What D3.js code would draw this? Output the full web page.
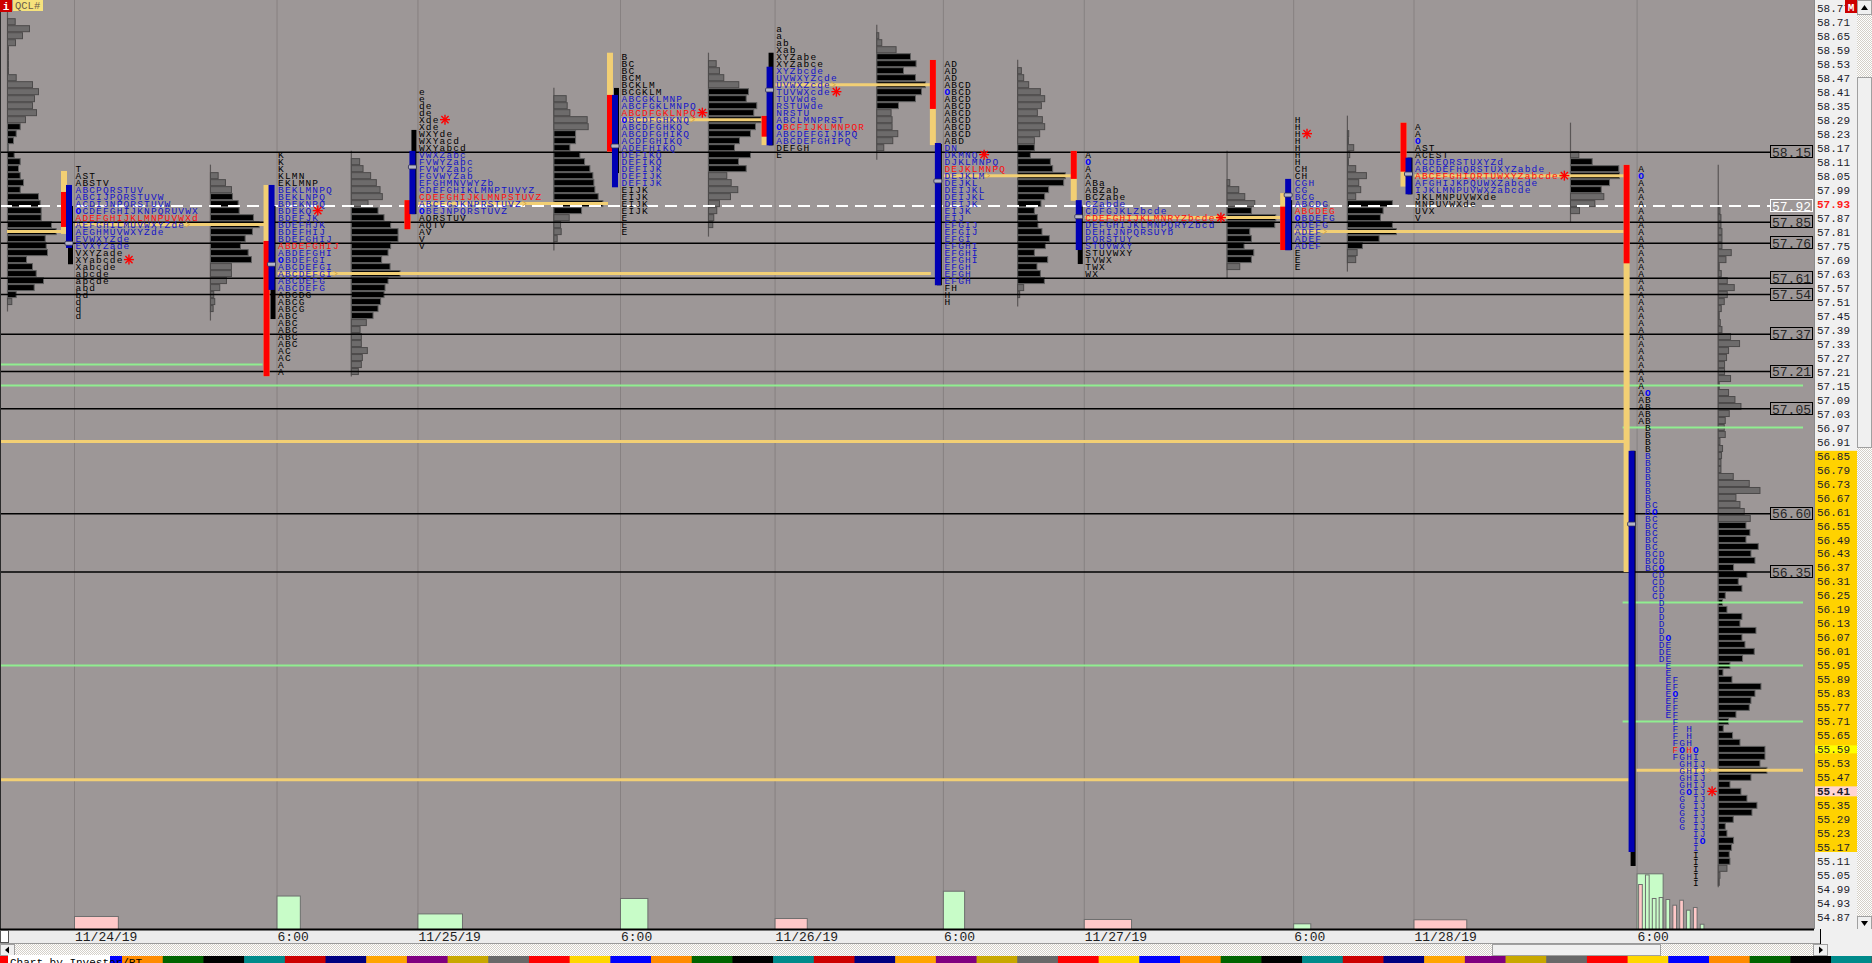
<!DOCTYPE html>
<html><head><meta charset="utf-8">
<script src="https://cdn.jsdelivr.net/npm/d3@7"></script>
<style>
html,body{margin:0;padding:0;background:#9d9797;overflow:hidden}
svg{display:block}
text{font-family:"Liberation Mono","DejaVu Sans Mono",monospace}
</style></head><body>
<svg id="c" width="1872" height="963"></svg>
<script>
// ---------------- DATA ----------------
const priceTicks = [58.77,58.71,58.65,58.59,58.53,58.47,58.41,58.35,58.29,58.23,58.17,58.11,58.05,57.99,57.93,57.87,57.81,57.75,57.69,57.63,57.57,57.51,57.45,57.39,57.33,57.27,57.21,57.15,57.09,57.03,56.97,56.91,56.85,56.79,56.73,56.67,56.61,56.55,56.49,56.43,56.37,56.31,56.25,56.19,56.13,56.07,56.01,55.95,55.89,55.83,55.77,55.71,55.65,55.59,55.53,55.47,55.41,55.35,55.29,55.23,55.17,55.11,55.05,54.99,54.93,54.87];
const sessionLabels = ["11/24/19","6:00","11/25/19","6:00","11/26/19","6:00","11/27/19","6:00","11/28/19","6:00"];
const levelLines = [58.15,57.85,57.76,57.61,57.54,57.37,57.21,57.05,56.60,56.35];
const dashedLevel = 57.92;
const axisRedLabel = 57.93;
const greenLevels = [57.24,57.15,55.95,56.97,56.22,55.71];
const greenFrom   = [null,null,null,9,9,9];
const greenTo     = [1,null,null,null,null,null];
const nakedPocs = [56.91,55.46];

// TPO letter rows (top row price, then one string per 0.03 step)
const tpoTop = [58.08,58.14,58.41,58.56,58.68,58.53,58.14,58.29,58.26,58.08];
const tpo1 = ["T","AST","ABSTV","ABCPQRSTUV","ABCIJPQRSTUVW","ACDIJNPQRSTUVW","OCDEFGHIJKNPQRUVWX","ADEFGHIJKLMNPUVWXd","AEFGHILMUVWXYZde","AEGHMUVWXYZde","EVWXYZde","EVXYZade","VXYZade","XYabcde","Xabcde","abcde","abcde","abd","bd","d","d","d"];
const tpo2 = ["K","K","K","KLMN","EKLMNP","BEKLMNPQ","BEKLNPQ","BDEKNPQ","BDEKQ","BDEFJK","BDEFHJK","BDEFHIJ","BDEFGHIJ","ABDEFGHIJ","ABDEFGHI","OBDEFGI","ABCDEFGI","ABCDEFGI","ABCDEFG","ABCDEFG","ABCDG","ABCG","ABCG","ABC","ABC","ABC","ABC","ABC","AC","AC","A","A"];
const tpo3 = ["e","e","de","de","Xde","Xde","WXYde","WXYacd","WXYabcd","VWXZabc","FVWYZabc","FVWYZabc","FGVWYZab","EFGHMNVWYZb","CDEFGHIKLMNPTUVYZ","CDEFGHIJKLMNPSTUVZ","ABCEGJKNPRSTUVZ","OBEJNPQRSTUVZ","AQRSTUV","AQTV","AV","V","V"];
const tpo4 = ["B","BC","BC","BCM","BCKLM","BCGKLM","ABCGKLMNP","ABCFGKLMNPQ","ABCDFGKLNPQ","OBCDFGHKNQ","ABCDFGHKQ","ABCDFGHIKQ","ACDFGHIKQ","ADEFHIKQ","DEFIKQ","DEFIKQ","DEFIJK","DEFIJK","DEFIJK","EIJK","EIJK","EIJK","EIJK","E","E","E"];
const tpo5 = ["a","a","ab","Xab","XYZabe","XYZabce","XYZbcde","UVWXYZcde","UVWXZcde","TUVWXcde","TUVWde","RSTUWde","NRSTU","ABCLMNPRST","OBCFIJKLMNPQR","ABCDEFGIJKPQ","ABCDEFGHIPQ","DEFGH","E"];
const tpo6 = ["AD","AD","AD","ABCD","OBCD","ABCD","ABCD","ABCD","ABCD","ABCD","ABCD","ABD","DN","DKMNQ","DJKLMNPQ","DEJKLMNPQ","DEJKLM","DEJKL","DEIJKL","DEIJKL","DEIJK","EIJK","EIJ","EFGIJ","EFGIJ","EFGI","EFGHI","EFGHI","EFGHI","EFGH","EFGH","EFGH","FH","H","H"];
const tpo7 = ["A","O","A","A","ABa","ABZab","BCZabe","CZabde","CDFGJKLZbcde","CDEFGHIJKLMNRYZbcde","DEFGHIJKLMNPQRYZbcd","DEHIJNPQRSUYb","PQRSTUY","STUVWXY","STUVWXY","TVWX","TWX","WX"];
const tpo8 = ["H","H","H","H","H","H","H","CH","CH","CGH","CG","BCG","ABCDG","ABCDEG","OBDEFG","ADEFG","ADEF","ADEF","ADEF","E","E","E"];
const tpo9 = ["A","A","O","AST","ACEST","ACDEQRSTUXYZd","ABCDEFHQRSTUXYZabde","ABCEFGHIQRTUWXYZabcde","AFGHIJKPQUWXZabcde","IJKLMNPUVWXZabcde","JKLMNPUVWXde","MNPUVWXde","UVX","V"];
// current session, by 30-minute period
const tpo10Letters = ["A","B","C","D","E","F","G","H","I","J"];
const tpo10High = [58.08,57.12,56.64,56.43,56.07,55.89,55.62,55.68,55.59,55.53];
const tpo10Low  = [57.00,56.37,56.25,55.98,55.74,55.56,55.26,55.41,55.02,55.20];
const tpo10Open = [58.05,57.12,56.61,56.37,56.07,55.83,55.59,55.41,55.59,55.20];

const tpoPoc   = [57.87,57.75,57.96,58.32,58.26,58.08,57.87,57.90,58.05,55.59];
const closePx  = [57.69,57.90,58.29,58.32,58.41,58.14,57.87,58.23,58.05,55.41];
const vaLow    = [57.74,57.56,57.885,58.00,58.18,57.58,57.731,57.73,57.97,55.15];
const vaHigh   = [58.01,58.01,58.156,58.396,58.517,58.19,57.945,58.036,58.127,56.87];
const rngLow   = [57.67,57.435,57.885,58.061,58.18,57.58,57.671,57.731,57.97,55.09];
const rngHigh  = [57.92,57.92,58.246,58.426,58.577,58.186,57.917,57.945,58.127,56.87];
const extLow   = [57.80,57.19,57.82,58.153,58.181,58.181,57.942,57.731,58.003,56.35];
const extHigh  = [58.07,58.01,57.945,58.577,58.306,58.546,58.156,57.975,58.277,58.096];
const ibLow    = [57.83,57.19,57.82,58.153,58.217,58.336,58.036,57.731,58.067,57.674];
const ibHigh   = [57.98,57.77,57.945,58.396,58.306,58.546,58.156,57.917,58.277,58.096];
const midMark  = [57.76,57.67,58.087,58.177,58.417,58.027,57.874,57.967,58.057,56.556];
const pocEnd   = [1,5,3,4,5,6,7,9,9,null];

// volume-at-price histograms (index 0 = prior session, off screen)
const histTop = [58.71,58.05,58.11,58.38,58.53,58.65,58.50,58.02,58.23,58.14,57.90];
const histVaLow  = [57.54,57.69,57.45,57.90,58.08,58.35,57.60,57.69,57.75,57.99,55.11];
const histVaHigh = [58.26,57.96,57.90,58.23,58.41,58.56,58.17,57.90,57.93,58.11,56.55];
const hist0 = [7.7,22,15,8,1,1,1,1,8.7,25,31,27,25,29,18,12.7,8.7,6,1,6.7,12.7,11,12.7,16,12.7,31,32.7,33.7,33.7,44,48.7,37.7,38.7,40,19,25,28.7,36,26.7,8.7,4.3];
const hist1 = [7.7,15,21,22,27.7,28.7,43,48.7,42,34.7,30,37.7,41,21,21,16,9.3,3.3,4.3,2.7];
const hist2 = [8.3,11.7,19.3,25,28.7,31,16.7,26.7,32.7,39.3,46.7,46.7,39.3,36.7,30.3,38.7,48.7,36.7,33.7,32.7,29.3,26.7,21.7,15,8.7,10,10,16,11,10,7];
const hist3 = [12.3,13.3,16,33.3,34.3,21.7,21.7,16,26,30.7,36,39,40,41,44.3,49,27.7,15.3,6.7,7.3,3.3];
const hist4 = [7.7,11,15.3,30.3,40,37.7,48.3,45.3,52.7,47,42,31,26,42,30,37.7,18.3,22.7,29.3,22,11,8.3,5.3,4.3];
const hist5 = [2,5,19.3,33.7,39.3,26.7,38.7,48.7,44.7,38.7,21.7,14.3,15.3,15.3,21,16,7];
const hist6 = [3.7,6,11,22.7,27,23.7,19.7,24.7,27,22,16.7,16.7,12.7,32.7,35,47.7,46,31,27,23.3,16.7,19.7,20.3,24.3,31.7,27.7,16.7,30,19.3,22.7,26.7,6,2];
const hist7 = [2.7,11.7,17.7,27.7,24.3,48.7,47.7,22.7,24.3,17,26.7,24.3,12.7];
const hist8 = [1.3,1,6.3,2.3,1,8.3,19,11.3,13.3,8.3,45,35.7,33,45,49,31.7,15,9.7,8.3];
const hist9 = [8.3,21.7,48.3,49,39,30.7,33.3,24.3,9];
const hist10 = [1.7,2.7,2.7,3.7,3.7,3.7,13,7.7,1,3,9,16,9,6,3,1,2,3.7,12.3,21.3,10.3,8.3,6.3,6.3,12.3,1,10.3,
  16.7,22.7,11,7,6,7,1.7,4.3,3.3,2.7,2.7,15,31,41.7,17.7,21.7,26,32,27.7,31.7,27.7,40,32.7,36.7,15.3,28.7,20,23.7,7,4.3,8.7,23.7,21.7,37.7,23.7,26.7,36,24.3,11.7,4.7,13.7,42.7,36.7,32.7,31,17.7,10.3,5,14.3,21.7,46.7,46.7,41.7,48.7,32.7,11.7,22.7,28.7,38.7,33.7,15,7,8.7,15.3,13.3,11,11.7,8.7,1.7,1];

// session volume (bottom pane)
const sessionVolume = [21.7,55.8,26,51.7,18.3,63.8,16.7,9.5,16.2,92.8];
const sessionUp     = [false,true,true,true,false,true,false,true,false,true];
const sessionVolCols = [6.4,3.4,6.5,4.0,4.7,3.1,6.9,2.5,7.7,3.8];
const periodVolume  = [75,91,51.7,53.3,50,40.5,48.8,32.2,36.7,8.8];
const periodUp      = [false,true,true,true,true,false,false,true,false,true];
const stripColors = ["#ff0000","#ffd700","#0000ff","#ff8c00","#006400","#000000","#008b8b","#cc0000","#000080","#ffa500","#800080","#c8a800","#696969"];

// ---------------- SCALES / LAYOUT ----------------
const svg = d3.select("#c");
const W = 1872, H = 963, plotRight = 1814, plotBottom = 929;
const BG = "#9d9797";
const y = d3.scaleLinear().domain([54.87, 58.71]).range([917.3, 21.7]);
const colW = 6.85;
const xc = d3.scaleLinear().domain([0, 1]).range([0, colW]);
const hx = d3.scaleLinear().domain([0, 50]).range([0, 50]);
const vy = d3.scaleLinear().domain([0, 100]).range([plotBottom, plotBottom - 60]);
const rowH = y(0) - y(0.03);
const cents = v => Math.round(v * 100);

function buildPeriodRows(top, letters, hi, lo, op) {
  const n = Math.round((top - d3.min(lo)) / 0.03) + 1, rows = [];
  for (let r = 0; r < n; r++) {
    const p = cents(top - 0.03 * r);
    let s = "";
    letters.forEach((L, k) => {
      const inside = p <= cents(hi[k]) && p >= cents(lo[k]);
      s += inside ? (p === cents(op[k]) ? "O" : L) : " ";
    });
    rows.push(s.replace(/\s+$/, ""));
  }
  return rows;
}
const tpoRows = [tpo1,tpo2,tpo3,tpo4,tpo5,tpo6,tpo7,tpo8,tpo9,
  buildPeriodRows(tpoTop[9], tpo10Letters, tpo10High, tpo10Low, tpo10Open)];
const hists = [hist0,hist1,hist2,hist3,hist4,hist5,hist6,hist7,hist8,hist9,hist10];

const S = [];
let sepX = 74;
for (let i = 0; i < 10; i++) {
  const rows = tpoRows[i];
  const maxLen = d3.max(rows, r => r.length);
  const letterStart = sepX + 1;
  const base = letterStart + xc(maxLen + 1.7);
  S.push({ i, sep: sepX, letterStart, base, rows, top: tpoTop[i] });
  sepX = base + 49 + 17.6;
}
const base0 = S[0].sep - 67;
const histBase = [base0].concat(S.map(s => s.base));

// ---------------- DRAW ----------------
const defs = svg.append("defs");
const pat = defs.append("pattern").attr("id","hatch").attr("width",2).attr("height",2).attr("patternUnits","userSpaceOnUse");
pat.append("rect").attr("width",2).attr("height",2).attr("fill","#ffffff");
pat.append("rect").attr("width",1).attr("height",1).attr("fill","#d4d0c8");
pat.append("rect").attr("x",1).attr("y",1).attr("width",1).attr("height",1).attr("fill","#d4d0c8");
defs.append("clipPath").attr("id","plotClip").append("rect").attr("width",plotRight).attr("height",plotBottom);

svg.append("rect").attr("width",W).attr("height",H).attr("fill",BG);
const plot = svg.append("g").attr("clip-path","url(#plotClip)");

// session separators
plot.selectAll("line.sep").data(S).join("line")
  .attr("x1",d=>d.sep+0.5).attr("x2",d=>d.sep+0.5).attr("y1",0).attr("y2",plotBottom)
  .attr("stroke","#878181").attr("stroke-width",1);

// histograms
const gH = plot.append("g");
hists.forEach((vals, h) => {
  const base = histBase[h], top = histTop[h];
  const topY = h === 0 ? 0 : y(tpoTop[h-1]) - 4;
  const botY = h === 0 ? y(top - 0.03*(vals.length-1)) + 10
              : y(tpoTop[h-1] - 0.03*(tpoRows[h-1].length-1)) + 5;
  gH.append("line").attr("x1",base+0.5).attr("x2",base+0.5).attr("y1",topY).attr("y2",botY)
    .attr("stroke","#5a5656").attr("stroke-width",1.2);
  vals.forEach((v, j) => {
    const p = top - 0.03*j;
    const inVa = cents(p) >= cents(histVaLow[h]) && cents(p) <= cents(histVaHigh[h]);
    gH.append("rect").attr("x",base+0.5).attr("y",y(p)-rowH/2+0.5)
      .attr("width",Math.max(hx(v),0.8)).attr("height",rowH-1)
      .attr("fill",inVa ? "#000" : "#6d6b6b").attr("stroke",inVa ? "#5e5e5e" : "#4c4a4a").attr("stroke-width",1);
  });
});

// horizontal reference lines
const gL = plot.append("g");
gL.selectAll("line.lv").data(levelLines).join("line")
  .attr("x1",0).attr("x2",1770).attr("y1",d=>y(d)).attr("y2",d=>y(d))
  .attr("stroke","#000").attr("stroke-width",1.5);
gL.append("line").attr("x1",0).attr("x2",1770).attr("y1",y(dashedLevel)).attr("y2",y(dashedLevel))
  .attr("stroke","#fff").attr("stroke-width",2).attr("stroke-dasharray","12,7");
greenLevels.forEach((p,k) => {
  const x1 = greenFrom[k] == null ? 0 : S[greenFrom[k]].sep - 14;
  const x2 = greenTo[k] == null ? 1803 : S[greenTo[k]].sep - 14;
  gL.append("line").attr("x1",x1).attr("x2",x2).attr("y1",y(p)).attr("y2",y(p))
    .attr("stroke","#90ee90").attr("stroke-width",2);
});
const YEL = "#f2cf74";
nakedPocs.forEach(p => {
  gL.append("line").attr("x1",0).attr("x2",S[9].sep-8).attr("y1",y(p)).attr("y2",y(p))
    .attr("stroke",YEL).attr("stroke-width",3);
});
function histPoc(h){ const j = d3.maxIndex(hists[h]); return histTop[h] - 0.03*j; }
{ const p = histPoc(0);
  gL.append("line").attr("x1",base0).attr("x2",S[0].sep-12).attr("y1",y(p)).attr("y2",y(p)).attr("stroke",YEL).attr("stroke-width",3); }
S.forEach((s,i) => {
  const p = histPoc(i+1);
  const x2 = pocEnd[i] == null ? 1803 : S[pocEnd[i]].sep - 12;
  const x1 = pocEnd[i] == null ? s.sep : s.letterStart;
  gL.append("line").attr("x1",x1).attr("x2",x2).attr("y1",y(p)).attr("y2",y(p)).attr("stroke",YEL).attr("stroke-width",3);
  const r = Math.round((s.top - p)/0.03);
  if (r >= 0 && r < s.rows.length) {
    const ax = s.letterStart + xc(s.rows[r].length) + 1;
    gL.append("path").attr("d",`M${ax},${y(p)-2.5}L${ax+4},${y(p)}L${ax},${y(p)+2.5}`)
      .attr("fill","none").attr("stroke","#d9a94a").attr("stroke-width",1);
  }
});

// range bars
const gB = plot.append("g");
S.forEach((s,i) => {
  const bar = (x,w,lo,hi,c) => gB.append("rect").attr("x",x).attr("y",y(hi)).attr("width",w)
      .attr("height",Math.max(y(lo)-y(hi),1)).attr("fill",c);
  bar(s.sep-13,6,extLow[i],extHigh[i],YEL);
  bar(s.sep-13,6,ibLow[i],ibHigh[i],"#ff0000");
  bar(s.sep-6,5,rngLow[i],rngHigh[i],"#000000");
  bar(s.sep-8,6,vaLow[i],vaHigh[i],"#0000b4");
  gB.append("rect").attr("x",s.sep-9).attr("y",y(midMark[i])-2).attr("width",8).attr("height",4)
    .attr("rx",1).attr("fill","#b4b4c4").attr("stroke","#2a2a50").attr("stroke-width",0.8);
});

// TPO letters: one text element per price row, one tspan per letter
const gT = plot.append("g").attr("font-size",9.5);
S.forEach((s,i) => {
  s.rows.forEach((row, r) => {
    const p = cents(s.top - 0.03*r);
    const inVa = p >= cents(vaLow[i]) && p <= cents(vaHigh[i]);
    const isPoc = p === cents(tpoPoc[i]);
    const base = isPoc ? "#ff0d0d" : inVa ? "#1414c8" : "#000";
    const t = gT.append("text").attr("y",y(s.top-0.03*r)).attr("dy","0.36em")
      .attr("text-anchor","middle").attr("fill",base);
    for (let k = 0; k < row.length; k++) {
      const ch = row[k];
      if (ch === " ") continue;
      const ts = t.append("tspan").attr("x",s.letterStart + xc(k+0.5)).text(ch);
      if (ch === "O") ts.attr("fill","#0000ff").attr("font-weight","bold");
    }
  });
  // close marker
  const r = Math.round((s.top - closePx[i])/0.03);
  const len = s.rows[r] ? s.rows[r].length : 0;
  const cx = s.letterStart + xc(len) + 6, cy = y(closePx[i]);
  const g = gT.append("g").attr("stroke","#ff0000").attr("stroke-width",1.4);
  g.append("line").attr("x1",cx).attr("x2",cx).attr("y1",cy-5).attr("y2",cy+5);
  g.append("line").attr("x1",cx-5).attr("x2",cx+5).attr("y1",cy).attr("y2",cy);
  g.append("line").attr("x1",cx-3.6).attr("x2",cx+3.6).attr("y1",cy-3.6).attr("y2",cy+3.6);
  g.append("line").attr("x1",cx-3.6).attr("x2",cx+3.6).attr("y1",cy+3.6).attr("y2",cy-3.6);
});

// bottom volume pane
const gV = plot.append("g");
S.forEach((s,i) => {
  gV.append("rect").attr("x",s.sep+0.5).attr("y",vy(sessionVolume[i])+0.5)
    .attr("width",xc(sessionVolCols[i])).attr("height",vy(0)-vy(sessionVolume[i]))
    .attr("fill",sessionUp[i] ? "#c8fcc8" : "#ffc8c8").attr("stroke","#6e6e6e").attr("stroke-width",1);
});
periodVolume.forEach((v,k) => {
  gV.append("rect").attr("x",S[9].letterStart + xc(k) + 1).attr("y",vy(v)+0.5)
    .attr("width",3.7).attr("height",vy(0)-vy(v))
    .attr("fill",periodUp[k] ? "#c8fcc8" : "#ffc8c8").attr("stroke","#6e6e6e").attr("stroke-width",1);
});

// level labels
const gLab = svg.append("g").attr("font-size",13);
levelLines.concat([dashedLevel]).forEach(p => {
  const white = p === dashedLevel;
  gLab.append("rect").attr("x",1770.5).attr("y",Math.round(y(p))-6.5).attr("width",42).attr("height",12)
    .attr("fill",BG).attr("stroke",white ? "#fff" : "#000").attr("stroke-width",1);
  gLab.append("text").attr("x",1791.5).attr("y",y(p)).attr("dy","0.36em").attr("text-anchor","middle")
    .attr("fill",white ? "#fff" : "#262626").text(d3.format(".2f")(p));
});

// price axis panel
svg.append("rect").attr("x",plotRight).attr("y",0).attr("width",43).attr("height",plotBottom).attr("fill","#f0f0f0");
svg.append("rect").attr("x",plotRight).attr("y",y(vaHigh[9])).attr("width",43).attr("height",y(vaLow[9])-y(vaHigh[9])).attr("fill","#ffd200");
svg.append("rect").attr("x",plotRight).attr("y",y(tpoPoc[9])-4).attr("width",43).attr("height",8).attr("fill","#ffff00");
svg.append("rect").attr("x",plotRight).attr("y",y(closePx[9])-5).attr("width",43).attr("height",10).attr("fill","#ffd4d4");
const axisG = svg.append("g").attr("transform",`translate(${plotRight},0)`)
  .call(d3.axisRight(y).tickValues(priceTicks).tickSize(0).tickPadding(3).tickFormat(d3.format(".2f")));
axisG.select(".domain").remove();
axisG.selectAll("text").attr("font-size",11).attr("font-family","Liberation Mono, monospace")
  .attr("fill",d => cents(d) === cents(axisRedLabel) ? "#ff1a1a" : "#1c1c2c")
  .attr("font-weight",d => (cents(d) === cents(axisRedLabel) || cents(d) === cents(closePx[9])) ? "bold" : "normal");
svg.append("line").attr("x1",plotRight+0.5).attr("x2",plotRight+0.5).attr("y1",0).attr("y2",plotBottom).attr("stroke","#8a8a8a");

// vertical scrollbar
svg.append("rect").attr("x",1857).attr("y",0).attr("width",15).attr("height",930).attr("fill","url(#hatch)");
svg.append("rect").attr("x",1857.5).attr("y",0.5).attr("width",14).attr("height",14).attr("fill","#f0f0f0").attr("stroke","#a0a0a0");
svg.append("path").attr("d","M1861,10L1864.5,5L1868,10Z").attr("fill","#000");
svg.append("rect").attr("x",1857.5).attr("y",77.5).attr("width",14).attr("height",370).attr("fill","#f0f0f0").attr("stroke","#a0a0a0");
svg.append("rect").attr("x",1857.5).attr("y",916.5).attr("width",14).attr("height",13).attr("fill","#f0f0f0").attr("stroke","#a0a0a0");
svg.append("path").attr("d","M1861,921L1868,921L1864.5,926Z").attr("fill","#000");

// top badges
svg.append("rect").attr("x",1845).attr("y",0).attr("width",12).attr("height",13).attr("fill","#cc0000");
svg.append("text").attr("x",1851).attr("y",10.5).attr("text-anchor","middle").attr("font-size",11).attr("font-weight","bold").attr("fill","#fff").text("M");
svg.append("rect").attr("x",0).attr("y",0).attr("width",12).attr("height",12).attr("fill","#cc0000");
svg.append("text").attr("x",6).attr("y",10).attr("text-anchor","middle").attr("font-size",11).attr("font-weight","bold").attr("fill","#fff").text("i");
svg.append("rect").attr("x",13).attr("y",0).attr("width",30).attr("height",11).attr("fill","#f6e27c");
svg.append("text").attr("x",15).attr("y",9).attr("font-size",10.5).attr("fill","#6a5a4a").text("QCL#");
svg.append("line").attr("x1",0.5).attr("x2",0.5).attr("y1",12).attr("y2",plotBottom).attr("stroke","#2a2a2a");

// bottom date axis
svg.append("rect").attr("x",0).attr("y",plotBottom).attr("width",plotRight+6).attr("height",14).attr("fill","#ececec");
svg.append("line").attr("x1",0).attr("x2",plotRight).attr("y1",plotBottom+0.5).attr("y2",plotBottom+0.5).attr("stroke","#000").attr("stroke-width",2);
svg.append("rect").attr("x",0.5).attr("y",930.5).attr("width",8).attr("height",12).attr("fill","#fff").attr("stroke","#555");
svg.append("line").attr("x1",0).attr("x2",1820).attr("y1",943.5).attr("y2",943.5).attr("stroke","#9a9a9a");
S.forEach((s,i) => {
  svg.append("text").attr("x",s.sep+1).attr("y",941).attr("font-size",13).attr("fill","#1c1c1c").text(sessionLabels[i]);
});
svg.append("rect").attr("x",plotRight+6).attr("y",plotBottom).attr("width",W-plotRight-6).attr("height",28).attr("fill","#f0f0f0");
svg.append("line").attr("x1",1820.5).attr("x2",1820.5).attr("y1",929).attr("y2",956).attr("stroke","#000");

// horizontal scrollbar row
svg.append("rect").attr("x",0).attr("y",944).attr("width",1828).attr("height",12).attr("fill","url(#hatch)");
svg.append("rect").attr("x",0.5).attr("y",944.5).attr("width",14).attr("height",11).attr("fill","#f0f0f0").attr("stroke","#a0a0a0");
svg.append("path").attr("d","M9,946.5L5,950L9,953.5Z").attr("fill","#000");
svg.append("rect").attr("x",1492.5).attr("y",944.5).attr("width",168).attr("height",11).attr("fill","#f0f0f0").attr("stroke","#a0a0a0");
svg.append("rect").attr("x",1813.5).attr("y",944.5).attr("width",14).attr("height",11).attr("fill","#f0f0f0").attr("stroke","#a0a0a0");
svg.append("path").attr("d","M1819,946.5L1823,950L1819,953.5Z").attr("fill","#000");

// colour strip
const stripW = 40.69;
d3.range(Math.ceil(W/stripW)).forEach(k => {
  svg.append("rect").attr("x",k*stripW).attr("y",956).attr("width",stripW+0.5).attr("height",7)
    .attr("fill",stripColors[k % stripColors.length]);
});
svg.append("rect").attr("x",8).attr("y",955).attr("width",102).attr("height",8).attr("fill","#fff");
svg.append("text").attr("x",10).attr("y",966).attr("font-size",11).attr("fill","#000").text("Chart by Investor/RT");
</script>
</body></html>
